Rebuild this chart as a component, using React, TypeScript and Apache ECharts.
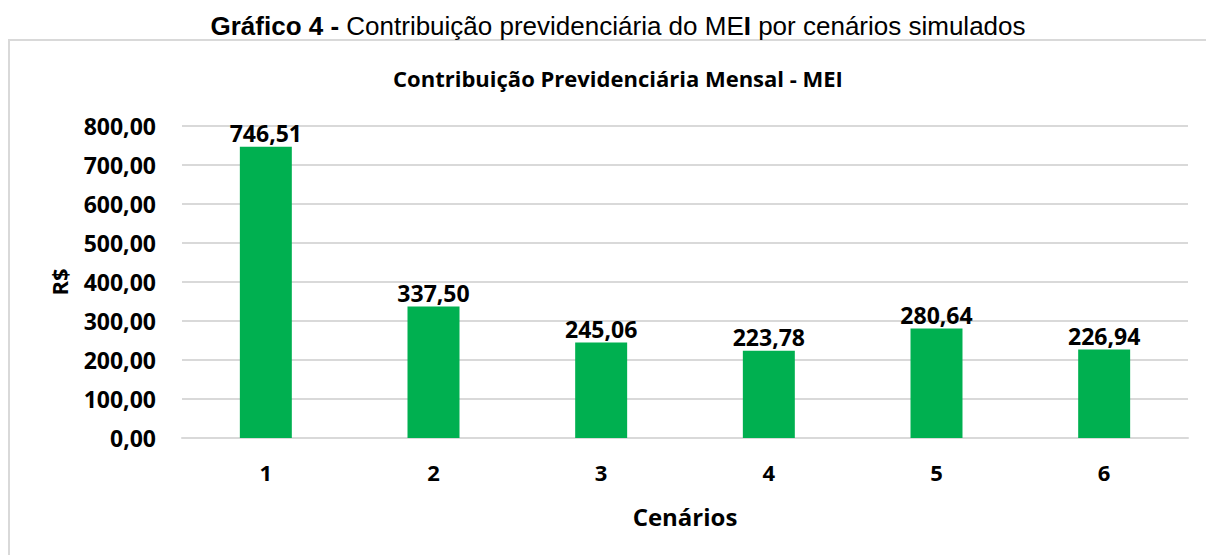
import React, { useEffect, useRef } from "react";
import * as echarts from "echarts";

const categories = ["1", "2", "3", "4", "5", "6"];
const values = [746.51, 337.5, 245.06, 223.78, 280.64, 226.94];
const yMin = 0;
const yMax = 800;
const yInterval = 100;

const fmt = (v: number) => v.toFixed(2).replace(".", ",");

export default function App() {
  const ref = useRef<HTMLDivElement>(null);
  useEffect(() => {
    if (!ref.current) return;
    const chart = echarts.init(ref.current, undefined, { renderer: "svg" });
    const font = "'Open Sans', sans-serif";
    chart.setOption({
      animation: false,
      backgroundColor: "#ffffff",
      title: [
        {
          text: "{b|Gráfico 4 -} Contribuição previdenciária do ME{b|I} por cenários simulados",
          left: 613,
          textAlign: "center",
          top: 8,
          textStyle: {
            fontFamily: "'Liberation Sans', Arial, sans-serif",
            fontSize: 26,
            fontWeight: "normal",
            color: "#000",
            rich: {
              b: { fontFamily: "'Liberation Sans', Arial, sans-serif", fontSize: 26, fontWeight: "bold", color: "#000" },
            },
          },
        },
        {
          text: "Contribuição Previdenciária Mensal - MEI",
          left: 613,
          textAlign: "center",
          top: 62,
          textStyle: { fontFamily: font, fontSize: 22, fontWeight: "bold", color: "#000" },
        },
      ],
      graphic: [
        {
          type: "polyline",
          shape: { points: [[9, 560], [9, 40], [1210, 40]] },
          style: { stroke: "#d9d9d9", lineWidth: 2, fill: "none" },
        },
      ],
      grid: { left: 182, right: 18, top: 126, bottom: 117 },
      xAxis: {
        type: "category",
        data: categories,
        name: "Cenários",
        nameLocation: "middle",
        nameGap: 66,
        nameTextStyle: { fontFamily: font, fontSize: 24, fontWeight: "bold", color: "#000" },
        axisLine: { show: true, lineStyle: { color: "#d9d9d9", width: 2 } },
        axisTick: { show: false },
        axisLabel: { fontFamily: font, fontSize: 22, fontWeight: "bold", color: "#000", margin: 23 },
      },
      yAxis: {
        type: "value",
        min: yMin,
        max: yMax,
        interval: yInterval,
        name: "R$",
        nameLocation: "middle",
        nameGap: 112,
        nameRotate: 90,
        nameTextStyle: { fontFamily: font, fontSize: 22, fontWeight: "bold", color: "#000" },
        axisLine: { show: false },
        axisTick: { show: false },
        splitLine: { lineStyle: { color: "#d9d9d9", width: 2 } },
        axisLabel: {
          fontFamily: font,
          fontSize: 23,
          fontWeight: "bold",
          color: "#000",
          margin: 26,
          formatter: (v: number) => fmt(v),
        },
      },
      series: [
        {
          type: "bar",
          data: values,
          barWidth: "31%",
          itemStyle: { color: "#00b050" },
          label: {
            show: true,
            position: "top",
            distance: 2,
            fontFamily: font,
            fontSize: 23,
            fontWeight: "bold",
            color: "#000",
            formatter: (p: any) => fmt(p.value),
          },
        },
      ],
    });
    return () => chart.dispose();
  }, []);
  return (
    <div
      ref={ref}
      style={{ position: "fixed", left: 0, top: 0, width: 1206, height: 555 }}
    />
  );
}
